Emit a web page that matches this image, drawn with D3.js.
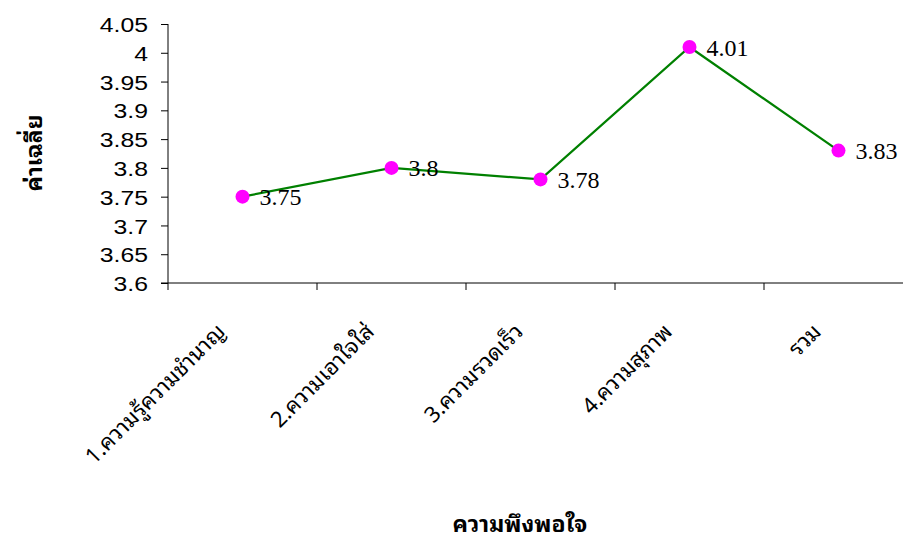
<!DOCTYPE html>
<html>
<head>
<meta charset="utf-8">
<script src="https://cdn.jsdelivr.net/npm/d3@7"></script>
<style>
  html, body { margin: 0; padding: 0; background: #fff; }
  svg { display: block; }
</style>
</head>
<body>
<svg id="chart" width="903" height="542"></svg>
<script>
// Satisfaction categories and their mean scores
const categories = ["1.ความรู้ความชำนาญ", "2.ความเอาใจใส่", "3.ความรวดเร็ว", "4.ความสุภาพ", "รวม"];
const means = [3.75, 3.8, 3.78, 4.01, 3.83];
const yTicks = [3.6, 3.65, 3.7, 3.75, 3.8, 3.85, 3.9, 3.95, 4, 4.05];
const yTitle = "ค่าเฉลี่ย";
const xTitle = "ความพึงพอใจ";

const thaiFont = "Tahoma, 'Noto Sans Thai Looped', Loma, Waree, Garuda, 'Noto Sans Thai', 'Noto Sans', sans-serif";

const svg = d3.select("#chart");
const plot = { left: 168, right: 913, top: 24, bottom: 283 };

const x = d3.scaleBand().domain(categories).range([plot.left, plot.right]).padding(0);
const y = d3.scaleLinear().domain([3.6, 4.05]).range([plot.bottom, plot.top]);

// Y axis (labels slightly widened)
const stretch = 1.18;
const yAxis = d3.axisLeft(y).tickValues(yTicks).tickSize(7).tickSizeOuter(0)
  .tickFormat(d => String(+d.toFixed(2)));
const gy = svg.append("g").attr("transform", `translate(${plot.left},0)`).call(yAxis);
gy.select(".domain").remove();
gy.append("line").attr("x1", 0).attr("x2", 0).attr("y1", plot.top).attr("y2", plot.bottom + 7)
  .attr("stroke", "#000").attr("stroke-width", 1);
gy.selectAll(".tick line").attr("stroke", "#000");
gy.selectAll(".tick text")
  .attr("x", -20 / stretch)
  .attr("dy", "0.36em")
  .attr("transform", `scale(${stretch},1)`)
  .style("font-family", "Arial, 'Liberation Sans', sans-serif")
  .style("font-size", "21px")
  .attr("fill", "#000");

// X axis: ticks at band edges
const gx = svg.append("g").attr("transform", `translate(0,${plot.bottom})`);
gx.append("line").attr("x1", plot.left - 7).attr("x2", plot.right).attr("y1", 0).attr("y2", 0)
  .attr("stroke", "#000").attr("stroke-width", 1);
gx.selectAll("line.edge").data(categories).enter().append("line")
  .attr("class", "edge")
  .attr("x1", d => x(d) + x.bandwidth()).attr("x2", d => x(d) + x.bandwidth())
  .attr("y1", 0).attr("y2", 7).attr("stroke", "#000");

// Rotated category labels
svg.append("g").selectAll("text").data(categories).enter().append("text")
  .attr("transform", d => `translate(${x(d) + x.bandwidth() / 2 - 16},${plot.bottom + 50}) rotate(-45)`)
  .attr("text-anchor", "end")
  .style("font-family", thaiFont)
  .style("font-size", "22px")
  .attr("fill", "#000")
  .text(d => d);

// Line
const cx = d => x(d) + x.bandwidth() / 2;
const line = d3.line().x(d => cx(d.c)).y(d => y(d.v));
const pts = categories.map((c, i) => ({ c, v: means[i] }));
svg.append("path").datum(pts).attr("d", line)
  .attr("fill", "none").attr("stroke", "#008000").attr("stroke-width", 2.2);

// Markers
svg.append("g").selectAll("circle").data(pts).enter().append("circle")
  .attr("cx", d => cx(d.c)).attr("cy", d => y(d.v)).attr("r", 7)
  .attr("fill", "#ff00ff");

// Value labels
svg.append("g").selectAll("text").data(pts).enter().append("text")
  .attr("x", d => cx(d.c) + 17).attr("y", d => y(d.v) + 8.5)
  .style("font-family", "'Liberation Serif', 'Times New Roman', serif")
  .style("font-size", "24px")
  .attr("fill", "#000")
  .text(d => d.v);

// Axis titles
svg.append("text")
  .attr("transform", `translate(42,153) rotate(-90)`)
  .attr("text-anchor", "middle")
  .style("font-family", thaiFont)
  .style("font-size", "23px").style("font-weight", "bold")
  .text(yTitle);

svg.append("text")
  .attr("x", 520).attr("y", 532)
  .attr("text-anchor", "middle")
  .style("font-family", thaiFont)
  .style("font-size", "23px").style("font-weight", "bold")
  .text(xTitle);
</script>
</body>
</html>
